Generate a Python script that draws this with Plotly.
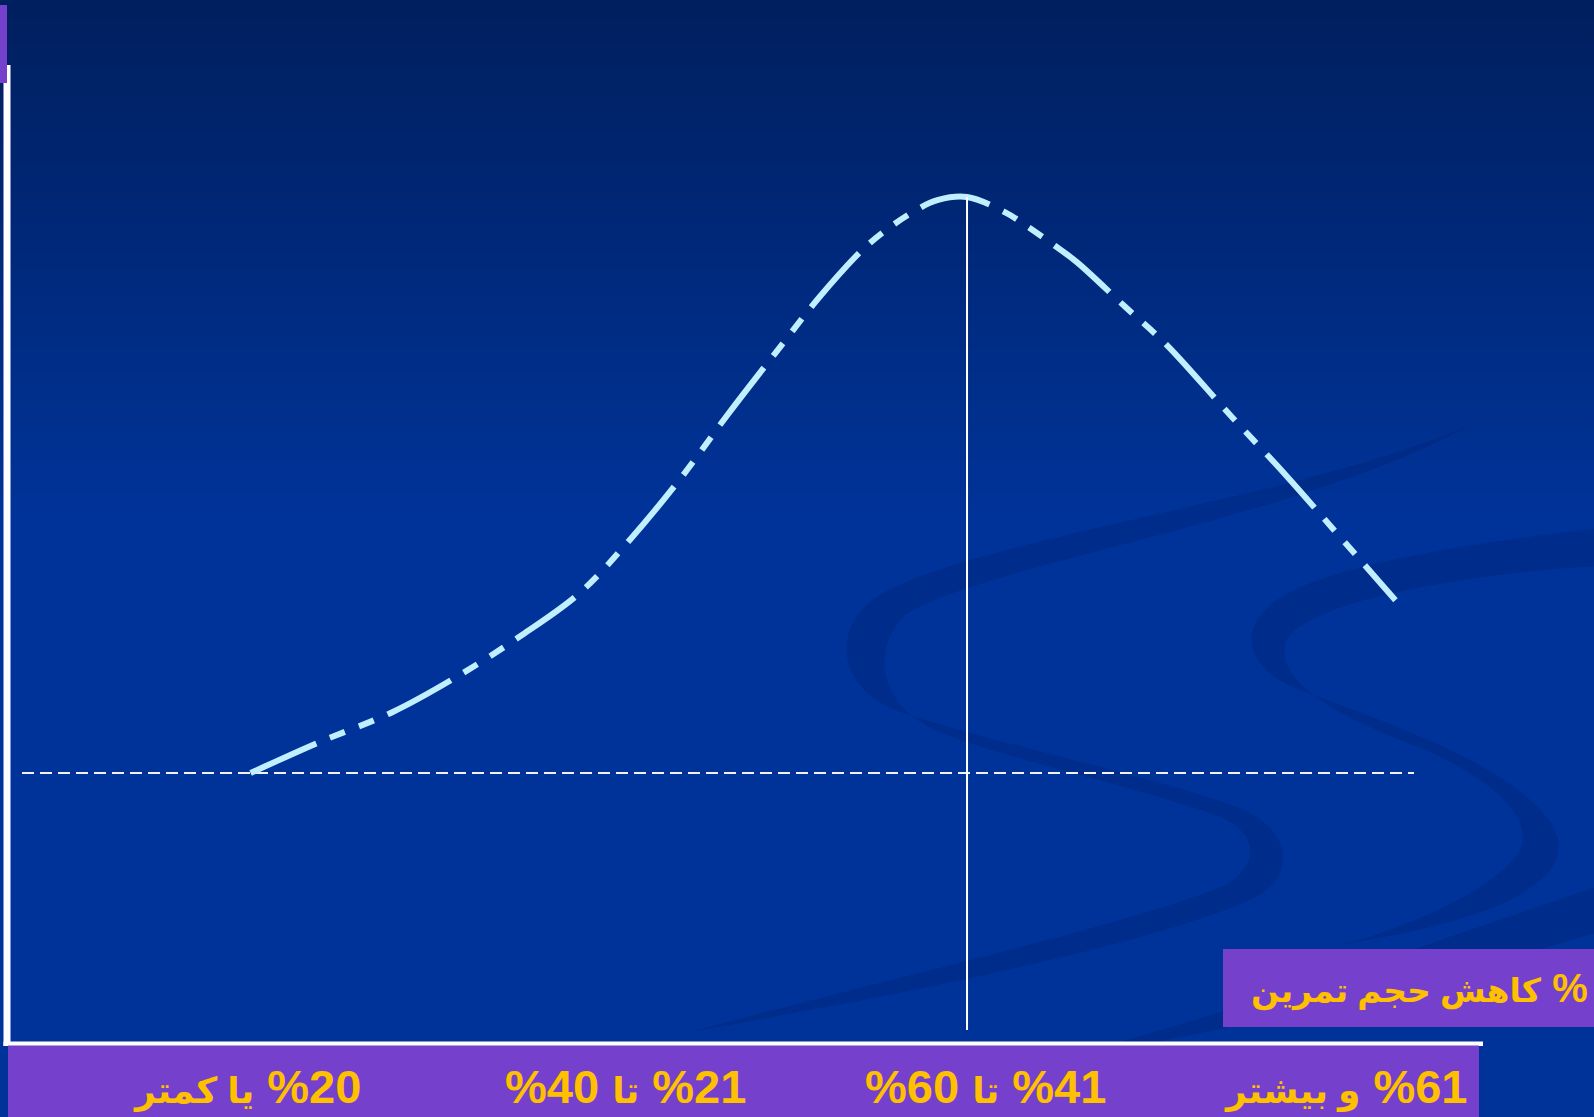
import plotly.graph_objects as go

W, H = 1594, 1117

# Performance response against percentage reduction of training volume
reduction_pct = [10.2, 13.9, 18.1, 21.7, 25.3, 28.5, 31.3, 34.1, 36.7, 39.8,
                 41.9, 44.6, 47.1, 48.4, 50.0, 52.2, 53.3, 54.8, 56.1, 58.8,
                 61.1, 64.6, 67.8, 70.3, 73.8]
performance = [0.0, 5.2, 10.6, 16.8, 24.0, 31.3, 40.6, 51.2, 62.2, 74.7,
               83.0, 92.0, 97.6, 99.5, 100.0, 97.2, 95.0, 91.7, 88.7, 80.9,
               74.3, 62.2, 51.4, 42.5, 30.0]

# category labels as (number part, word, second number part)
category_parts = [
    ("%20", "یا کمتر", ""),
    ("%21", "تا", "40%"),
    ("%41", "تا", "60%"),
    ("%61", "و بیشتر", ""),
]
category_x = [10, 31, 51, 71]
axis_title_parts = ("%", "کاهش حجم تمرین")

baseline_value = 0

X_RANGE = [-3.72, 84.83]
Y_RANGE = [-59.72, 134.2]

RLE, PDF = "\u202b", "\u202c"
YELLOW = "#FFC000"
PURPLE = "#7440CC"
CURVE = "#C0EFFF"


def fx(px):
    return px / W


def fy(py):
    return 1 - py / H


def y_at_px(py):
    return Y_RANGE[1] - py / H * (Y_RANGE[1] - Y_RANGE[0])


def path(cmds):
    out = []
    for op, pts in cmds:
        coords = " ".join(f"{fx(x):.5f},{fy(y):.5f}" for x, y in pts)
        out.append(f"{op} {coords}" if pts else op)
    return " ".join(out)


def small(txt, size):
    return f"<span style='font-size:{size}px'>{txt}</span>"


shapes = []

# background: vertical gradient from deep navy into royal blue
top_rgb = (0, 31, 94)
bot_rgb = (0, 51, 153)
n_bands = 60
grad_end = 520
shapes.append(dict(type="rect", xref="paper", yref="paper", x0=0, x1=1, y0=0, y1=1,
                   fillcolor="rgb(0,51,153)", line=dict(width=0), layer="below"))
for i in range(n_bands):
    t = i / (n_bands - 1)
    c = tuple(round(a + (b - a) * t) for a, b in zip(top_rgb, bot_rgb))
    y0 = grad_end * i / n_bands
    y1 = grad_end * (i + 1) / n_bands + 1
    shapes.append(dict(type="rect", xref="paper", yref="paper",
                       x0=0, x1=1, y0=fy(y1), y1=fy(y0),
                       fillcolor=f"rgb{c}", line=dict(width=0), layer="below"))

# decorative ribbons in the background
swoosh_fill = "rgba(0,20,80,0.17)"
ribbons = [
    [("M", [(1470, 425)]),
     ("C", [(1300, 500), (960, 540), (875, 598)]),
     ("C", [(830, 630), (838, 690), (900, 712)]),
     ("C", [(1000, 745), (1170, 780), (1245, 810)]),
     ("C", [(1295, 835), (1295, 880), (1250, 900)]),
     ("C", [(1150, 945), (900, 995), (690, 1032)]),
     ("C", [(900, 975), (1130, 925), (1225, 885)]),
     ("C", [(1262, 865), (1258, 830), (1215, 815)]),
     ("C", [(1130, 785), (990, 755), (935, 730)]),
     ("C", [(880, 705), (870, 650), (905, 615)]),
     ("C", [(980, 565), (1300, 520), (1470, 425)]),
     ("Z", [])],
    [("M", [(1600, 528)]),
     ("C", [(1450, 545), (1300, 570), (1265, 610)]),
     ("C", [(1240, 635), (1248, 670), (1300, 690)]),
     ("C", [(1380, 720), (1500, 760), (1545, 815)]),
     ("C", [(1575, 850), (1555, 880), (1500, 905)]),
     ("C", [(1450, 925), (1400, 935), (1340, 945)]),
     ("C", [(1420, 925), (1510, 880), (1522, 845)]),
     ("C", [(1530, 810), (1480, 770), (1400, 740)]),
     ("C", [(1330, 712), (1278, 680), (1285, 645)]),
     ("C", [(1295, 605), (1450, 575), (1600, 566)]),
     ("Z", [])],
    [("M", [(1600, 886)]),
     ("L", [(1600, 932)]),
     ("C", [(1450, 975), (1250, 1030), (1050, 1060)]),
     ("C", [(1250, 1010), (1450, 935), (1600, 886)]),
     ("Z", [])],
]
for r in ribbons:
    shapes.append(dict(type="path", xref="paper", yref="paper", path=path(r),
                       fillcolor=swoosh_fill, line=dict(width=0), layer="below"))

# dashed baseline
shapes.append(dict(type="line", xref="paper", yref="y",
                   x0=fx(22), x1=fx(1414), y0=baseline_value, y1=baseline_value,
                   line=dict(color="#F2F2F2", width=2, dash="12px,6px"), layer="below"))

# vertical marker from the peak of the curve
i_peak = performance.index(max(performance))
shapes.append(dict(type="line", xref="x", yref="y",
                   x0=reduction_pct[i_peak], x1=reduction_pct[i_peak],
                   y0=performance[i_peak], y1=y_at_px(1030),
                   line=dict(color="white", width=2), layer="above"))

# frame: left and bottom white rules
shapes.append(dict(type="rect", xref="paper", yref="paper",
                   x0=fx(3.5), x1=fx(10.5), y0=fy(1046), y1=fy(65),
                   fillcolor="white", line=dict(width=0), layer="above"))
shapes.append(dict(type="rect", xref="paper", yref="paper",
                   x0=fx(3.5), x1=fx(1483), y0=fy(1046), y1=fy(1041.5),
                   fillcolor="white", line=dict(width=0), layer="above"))

# purple label panels
shapes.append(dict(type="rect", xref="paper", yref="paper",
                   x0=fx(0), x1=fx(7), y0=fy(83), y1=fy(5),
                   fillcolor=PURPLE, line=dict(width=0), layer="above"))
shapes.append(dict(type="rect", xref="paper", yref="paper",
                   x0=fx(8), x1=fx(1479), y0=0, y1=fy(1045.5),
                   fillcolor=PURPLE, line=dict(width=0), layer="above"))
shapes.append(dict(type="rect", xref="paper", yref="paper",
                   x0=fx(1223), x1=1, y0=fy(1027), y1=fy(949),
                   fillcolor=PURPLE, line=dict(width=0), layer="above"))

fig = go.Figure()
fig.add_trace(go.Scatter(
    x=reduction_pct, y=performance, mode="lines",
    line=dict(color=CURVE, width=6, shape="spline", smoothing=1.0,
              dash="72px,15px,16px,15px,16px,15px"),
    hoverinfo="skip", showlegend=False,
))

annotations = []
for (num_a, word, num_b), xc in zip(category_parts, category_x):
    body = f"{num_a} {small(word, 36)}"
    if num_b:
        body += f" {num_b}"
    annotations.append(dict(
        x=xc, xref="x", y=fy(1086), yref="paper",
        text=f"<b>{RLE}{body}{PDF}</b>", showarrow=False,
        xanchor="center", yanchor="middle",
        font=dict(family="Liberation Sans, DejaVu Sans", size=47, color=YELLOW),
    ))
annotations.append(dict(
    x=fx(1419), xref="paper", y=fy(988), yref="paper",
    text=f"<b>{RLE}{axis_title_parts[0]} {small(axis_title_parts[1], 33)}{PDF}</b>",
    showarrow=False, xanchor="center", yanchor="middle",
    font=dict(family="Liberation Sans, DejaVu Sans", size=40, color=YELLOW),
))

fig.update_layout(
    width=W, height=H,
    margin=dict(l=0, r=0, t=0, b=0),
    paper_bgcolor="rgb(0,51,153)",
    plot_bgcolor="rgba(0,0,0,0)",
    xaxis=dict(range=X_RANGE, visible=False, fixedrange=True),
    yaxis=dict(range=Y_RANGE, visible=False, fixedrange=True),
    shapes=shapes,
    annotations=annotations,
)

fig.write_html("out.html")
